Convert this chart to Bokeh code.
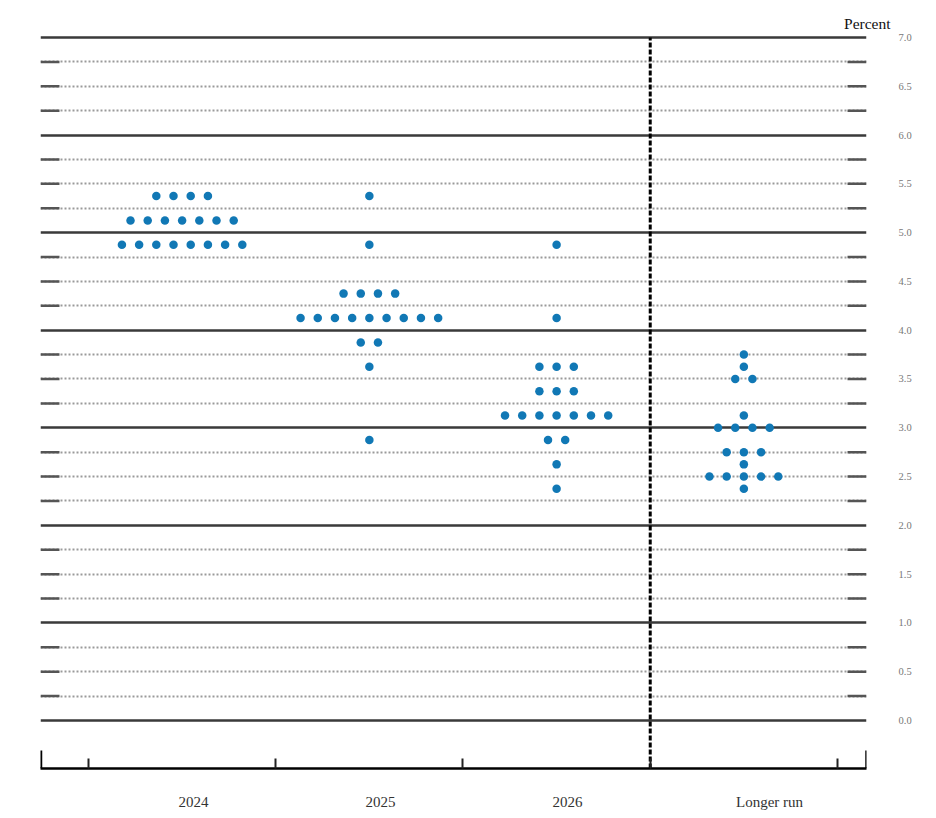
from bokeh.plotting import figure
from bokeh.models import FixedTicker, Range1d, ColumnDataSource
from bokeh.embed import file_html
from bokeh.resources import INLINE

# ---- data ----
categories = ["2024", "2025", "2026", "Longer run"]
cat_pos = [1, 2, 3, 4]
label_pos = [1.061, 2.060, 3.058, 4.137]
divider_pos = [0.5, 1.5, 2.5, 3.5, 4.5]

levels_2024 = [5.375, 5.125, 4.875]
counts_2024 = [4, 7, 8]
levels_2025 = [5.375, 4.875, 4.375, 4.125, 3.875, 3.625, 2.875]
counts_2025 = [1, 1, 4, 9, 2, 1, 1]
levels_2026 = [4.875, 4.125, 3.625, 3.375, 3.125, 2.875, 2.625, 2.375]
counts_2026 = [1, 1, 3, 3, 7, 2, 1, 1]
levels_lr = [3.75, 3.625, 3.5, 3.125, 3.0, 2.75, 2.625, 2.5, 2.375]
counts_lr = [1, 1, 2, 1, 4, 3, 1, 5, 1]

ytick_vals = [i * 0.5 for i in range(15)]
ytick_labels = ["0.0", "0.5", "1.0", "1.5", "2.0", "2.5", "3.0", "3.5",
                "4.0", "4.5", "5.0", "5.5", "6.0", "6.5", "7.0"]
integer_lines = [0, 1, 2, 3, 4, 5, 6, 7]
quarter_lines = [q * 0.25 for q in range(29) if q % 4 != 0]

# ---- layout constants ----
X0, X1 = 0.2437, 4.655
PX_X = 187.25
PX_Y = 97.571
Y0, Y1 = -48 / PX_Y, 7 + 4 / PX_Y
DOT_STEP = 17.2 / PX_X

all_levels = [levels_2024, levels_2025, levels_2026, levels_lr]
all_counts = [counts_2024, counts_2025, counts_2026, counts_lr]
xs, ys = [], []
for c, lv, ct in zip(cat_pos, all_levels, all_counts):
    for v, n in zip(lv, ct):
        for i in range(n):
            xs.append(c + (i - (n - 1) / 2) * DOT_STEP)
            ys.append(v)

p = figure(frame_width=826, frame_height=735,
           x_range=Range1d(X0, X1), y_range=Range1d(Y0, Y1),
           output_backend="svg", toolbar_location=None,
           y_axis_location="right",
           title="Percent", title_location="above",
           min_border_left=40, min_border_right=62,
           min_border_top=33, min_border_bottom=42,
           outline_line_color=None, background_fill_color="white")

p.title.align = "right"
p.title.offset = -24
p.title.standoff = 3
p.title.text_font = "Liberation Serif"
p.title.text_font_size = "15.5px"
p.title.text_font_style = "normal"
p.title.text_color = "#111111"

# grid
p.xgrid.visible = False
p.ygrid.ticker = FixedTicker(ticks=integer_lines, minor_ticks=quarter_lines)
p.ygrid.grid_line_color = "#3a3a3a"
p.ygrid.grid_line_width = 2.5
p.ygrid.minor_grid_line_color = "#9a9a9a"
p.ygrid.minor_grid_line_width = 2
p.ygrid.minor_grid_line_dash = "2 2"

# short solid ends on quarter lines
seg_len = 19 / PX_X
p.segment(x0=[X0] * len(quarter_lines), x1=[X0 + seg_len] * len(quarter_lines),
          y0=quarter_lines, y1=quarter_lines, line_color="#555", line_width=2.5)
p.segment(x0=[X1 - seg_len] * len(quarter_lines), x1=[X1] * len(quarter_lines),
          y0=quarter_lines, y1=quarter_lines, line_color="#555", line_width=2.5)

# dashed divider between 2026 and longer run
p.segment(x0=[divider_pos[3]], x1=[divider_pos[3]], y0=[Y0], y1=[integer_lines[-1]],
          line_color="black", line_width=3, line_dash="5 2")

# tall end ticks on x axis
end_h = 18 / PX_Y
p.segment(x0=[X0], x1=[X0], y0=[Y0], y1=[Y0 + end_h], line_color="black", line_width=3.5)
p.segment(x0=[X1], x1=[X1], y0=[Y0], y1=[Y0 + end_h], line_color="black", line_width=2.5)

# dots
src = ColumnDataSource(dict(x=xs, y=ys))
p.scatter("x", "y", source=src, size=8.5, color="#1178b5", line_color=None)

# y axis (right)
yax = p.yaxis[0]
yax.ticker = FixedTicker(ticks=ytick_vals)
yax.major_label_overrides = {v: s for v, s in zip(ytick_vals, ytick_labels)}
yax.axis_line_color = None
yax.major_tick_line_color = None
yax.minor_tick_line_color = None
yax.major_tick_in = 0
yax.major_tick_out = 0
yax.major_label_standoff = 32
yax.major_label_text_font = "Liberation Serif"
yax.major_label_text_font_size = "10.5px"
yax.major_label_text_color = "#777777"

# x axis
xax = p.xaxis[0]
xax.ticker = FixedTicker(ticks=label_pos, minor_ticks=divider_pos)
xax.major_label_overrides = {v: s for v, s in zip(label_pos, categories)}
xax.axis_line_color = "black"
xax.axis_line_width = 2.5
xax.major_tick_line_color = None
xax.major_tick_in = 0
xax.major_tick_out = 0
xax.minor_tick_line_color = "#222222"
xax.minor_tick_line_width = 2
xax.minor_tick_in = 10
xax.minor_tick_out = 0
xax.major_label_standoff = 25
xax.major_label_text_font = "Liberation Serif"
xax.major_label_text_font_size = "15px"
xax.major_label_text_color = "#333333"

open("out.html", "w").write(file_html(p, INLINE))
